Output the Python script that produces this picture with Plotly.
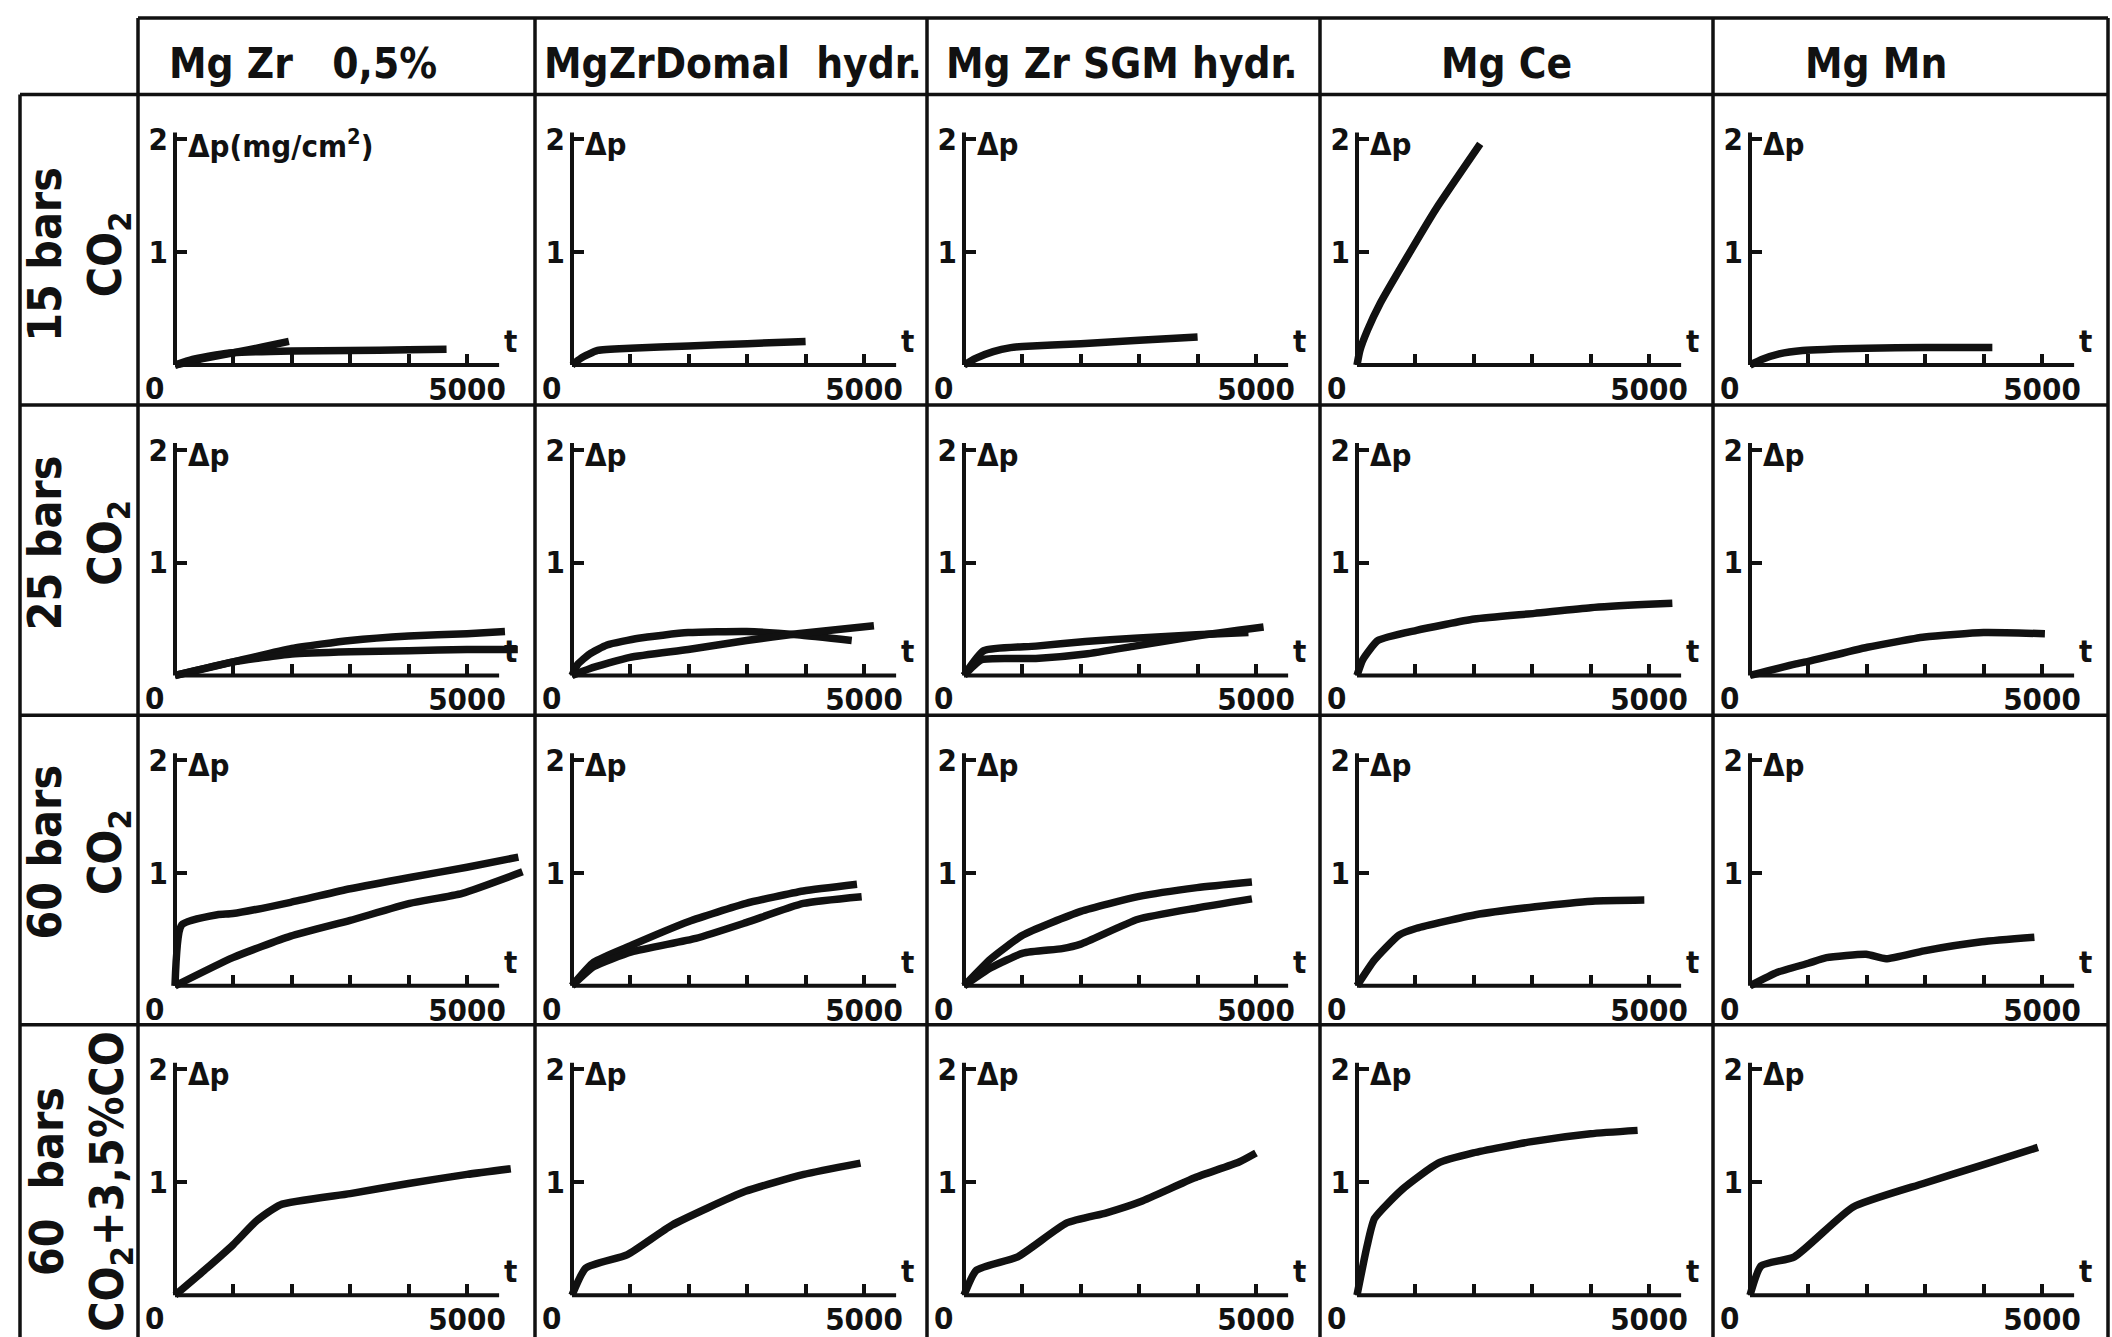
import plotly.graph_objects as go

# ---------------- data ----------------
col_titles = ["Mg Zr\u00a0\u00a0 0,5%", "MgZrDomal\u00a0 hydr.", "Mg Zr SGM hydr.", "Mg Ce", "Mg Mn"]
row_titles = ["15 bars<br>CO<sub>2</sub>", "25 bars<br>CO<sub>2</sub>", "60 bars<br>CO<sub>2</sub>",
              "60\u00a0 bars<br>CO<sub>2</sub>+3,5%CO"]
x_minor_tickvals = [1000, 2000, 3000, 4000]
x_tickvals = [5000]
x_ticktext = ["5000"]
y_tickvals = [1, 2]
y_ticktext = ["1", "2"]

# row 1 : 15 bars CO2
r1c1_a_t = [0, 500, 1000, 1500, 1950]
r1c1_a_p = [0, 0.06, 0.11, 0.16, 0.21]
r1c1_b_t = [0, 300, 700, 1000, 2000, 3000, 4000, 4650]
r1c1_b_p = [0, 0.05, 0.09, 0.11, 0.125, 0.13, 0.135, 0.14]
r1c2_t = [0, 150, 440, 1000, 2000, 3000, 4000]
r1c2_p = [0, 0.06, 0.13, 0.15, 0.17, 0.19, 0.21]
r1c3_t = [0, 200, 500, 800, 1000, 2000, 3000, 4000]
r1c3_p = [0, 0.06, 0.12, 0.155, 0.165, 0.19, 0.22, 0.25]
r1c4_t = [0, 50, 180, 400, 940, 1360, 2110]
r1c4_p = [0, 0.13, 0.31, 0.55, 1.03, 1.39, 1.96]
r1c5_t = [0, 200, 500, 900, 2000, 3000, 4150]
r1c5_p = [0, 0.05, 0.10, 0.13, 0.15, 0.155, 0.155]

# row 2 : 25 bars CO2
r2c1_a_t = [0, 1000, 2000, 3000, 4000, 5000, 5650]
r2c1_a_p = [0, 0.12, 0.24, 0.31, 0.35, 0.37, 0.39]
r2c1_b_t = [0, 1000, 2000, 3000, 4000, 5000, 5870]
r2c1_b_p = [0, 0.12, 0.19, 0.21, 0.22, 0.23, 0.23]
r2c2_a_t = [0, 100, 300, 600, 1140, 1990, 2990, 3860, 4790]
r2c2_a_p = [0, 0.10, 0.19, 0.27, 0.33, 0.38, 0.39, 0.36, 0.31]
r2c2_b_t = [0, 300, 990, 1990, 2990, 3860, 5170]
r2c2_b_p = [0, 0.06, 0.16, 0.23, 0.31, 0.37, 0.44]
r2c3_a_t = [0, 340, 1230, 2080, 2920, 3980, 4870]
r2c3_a_p = [0, 0.22, 0.26, 0.30, 0.33, 0.36, 0.38]
r2c3_b_t = [0, 300, 1230, 2080, 2920, 3980, 5130]
r2c3_b_p = [0, 0.14, 0.15, 0.19, 0.26, 0.35, 0.43]
r2c4_t = [0, 100, 360, 1020, 2010, 3040, 4000, 4990, 5400]
r2c4_p = [0, 0.14, 0.31, 0.40, 0.50, 0.55, 0.60, 0.63, 0.64]
r2c5_t = [0, 770, 1000, 2010, 2990, 4000, 5050]
r2c5_p = [0, 0.10, 0.125, 0.25, 0.34, 0.38, 0.37]

# row 3 : 60 bars CO2
r3c1_a_t = [0, 115, 725, 990, 1980, 3000, 4020, 5000, 5880]
r3c1_a_p = [0, 0.54, 0.63, 0.64, 0.74, 0.86, 0.96, 1.05, 1.14]
r3c1_b_t = [0, 990, 1980, 3000, 4020, 4920, 5950]
r3c1_b_p = [0, 0.25, 0.44, 0.58, 0.73, 0.82, 1.01]
r3c2_a_t = [0, 375, 1020, 2000, 2980, 3960, 4880]
r3c2_a_p = [0, 0.21, 0.36, 0.57, 0.73, 0.84, 0.90]
r3c2_b_t = [0, 375, 1020, 2120, 2980, 3960, 4960]
r3c2_b_p = [0, 0.17, 0.30, 0.42, 0.56, 0.73, 0.79]
r3c3_a_t = [0, 460, 1010, 2000, 2980, 3990, 4930]
r3c3_a_p = [0, 0.24, 0.45, 0.66, 0.79, 0.87, 0.92]
r3c3_b_t = [0, 460, 1010, 1680, 2000, 2980, 3990, 4930]
r3c3_b_p = [0, 0.16, 0.29, 0.33, 0.37, 0.59, 0.69, 0.77]
r3c4_t = [0, 300, 720, 1020, 2030, 3050, 4030, 4920]
r3c4_p = [0, 0.23, 0.45, 0.51, 0.63, 0.70, 0.75, 0.76]
r3c5_t = [0, 470, 1000, 1310, 1990, 2330, 2980, 3970, 4870]
r3c5_p = [0, 0.12, 0.20, 0.25, 0.28, 0.24, 0.31, 0.39, 0.43]

# row 4 : 60 bars CO2 + 3.5 % CO
r4c1_t = [0, 500, 1000, 1400, 1800, 3000, 4000, 5000, 5750]
r4c1_p = [0, 0.22, 0.45, 0.66, 0.80, 0.90, 0.99, 1.07, 1.12]
r4c2_t = [0, 235, 950, 1710, 2970, 3970, 4940]
r4c2_p = [0, 0.24, 0.36, 0.62, 0.92, 1.07, 1.17]
r4c3_t = [0, 210, 920, 1760, 2440, 3030, 3950, 4710, 5000]
r4c3_p = [0, 0.22, 0.34, 0.64, 0.73, 0.83, 1.04, 1.18, 1.26]
r4c4_t = [0, 170, 300, 780, 1390, 1990, 2990, 4000, 4805]
r4c4_p = [0, 0.43, 0.68, 0.94, 1.17, 1.26, 1.36, 1.43, 1.46]
r4c5_t = [0, 190, 760, 1760, 2970, 3960, 4930]
r4c5_p = [0, 0.26, 0.34, 0.78, 0.99, 1.15, 1.31]

cells = {
    (0, 0): [(r1c1_a_t, r1c1_a_p), (r1c1_b_t, r1c1_b_p)],
    (0, 1): [(r1c2_t, r1c2_p)],
    (0, 2): [(r1c3_t, r1c3_p)],
    (0, 3): [(r1c4_t, r1c4_p)],
    (0, 4): [(r1c5_t, r1c5_p)],
    (1, 0): [(r2c1_a_t, r2c1_a_p), (r2c1_b_t, r2c1_b_p)],
    (1, 1): [(r2c2_a_t, r2c2_a_p), (r2c2_b_t, r2c2_b_p)],
    (1, 2): [(r2c3_a_t, r2c3_a_p), (r2c3_b_t, r2c3_b_p)],
    (1, 3): [(r2c4_t, r2c4_p)],
    (1, 4): [(r2c5_t, r2c5_p)],
    (2, 0): [(r3c1_a_t, r3c1_a_p), (r3c1_b_t, r3c1_b_p)],
    (2, 1): [(r3c2_a_t, r3c2_a_p), (r3c2_b_t, r3c2_b_p)],
    (2, 2): [(r3c3_a_t, r3c3_a_p), (r3c3_b_t, r3c3_b_p)],
    (2, 3): [(r3c4_t, r3c4_p)],
    (2, 4): [(r3c5_t, r3c5_p)],
    (3, 0): [(r4c1_t, r4c1_p)],
    (3, 1): [(r4c2_t, r4c2_p)],
    (3, 2): [(r4c3_t, r4c3_p)],
    (3, 3): [(r4c4_t, r4c4_p)],
    (3, 4): [(r4c5_t, r4c5_p)],
}

# ---------------- layout geometry (pixels) ----------------
W, H = 2112, 1337
col_edges = [138, 535, 927, 1320, 1713, 2108]
row_edges = [88, 400, 712, 1023, 1337]
header_top = 11
left_edge = 20
ORIGIN_DX = 37
ORIGIN_DY = 272
PX_PER_T = 292 / 5000
PX_PER_P = 113.5
X_RANGE = [-80, 6000]
Y_RANGE = [-0.08, 2.1]
header_centers = [303, 733, 1122, 1506, 1876]
row_label_centers = [(78, 249), (78, 539), (78, 850), (80, 1181)]

FONT = "DejaVu Sans Condensed, Liberation Sans Narrow, DejaVu Sans, sans-serif"
INK = "#111111"
AX_FS = 31

fig = go.Figure()
layout = dict(width=W, height=H, margin=dict(l=0, r=0, t=0, b=0),
              paper_bgcolor="white", plot_bgcolor="rgba(0,0,0,0)", showlegend=False)
shapes = []
annotations = []

def px(x):
    return x / W

def py(y):
    return 1 - y / H

for (r, c), curves in cells.items():
    i = r * 5 + c + 1
    sfx = "" if i == 1 else str(i)
    ox = col_edges[c] + ORIGIN_DX
    oy = row_edges[r] + ORIGIN_DY
    xdom = [px(ox + X_RANGE[0] * PX_PER_T), px(ox + X_RANGE[1] * PX_PER_T)]
    ydom = [py(oy - Y_RANGE[0] * PX_PER_P), py(oy - Y_RANGE[1] * PX_PER_P)]
    layout["xaxis" + sfx] = dict(
        domain=xdom, range=X_RANGE, anchor="free", position=py(oy),
        showline=False, showgrid=False, zeroline=False,
        tickmode="array", tickvals=x_tickvals, ticktext=x_ticktext,
        ticks="inside", ticklen=11, tickwidth=3.5, tickcolor=INK,
        minor=dict(tickmode="array", tickvals=x_minor_tickvals, ticks="inside",
                   ticklen=11, tickwidth=3.5, tickcolor=INK, showgrid=False),
        tickfont=dict(family=FONT, size=AX_FS, color=INK, weight="bold"), ticklabelstandoff=3,
        fixedrange=True)
    layout["yaxis" + sfx] = dict(
        domain=ydom, range=Y_RANGE, anchor="free", position=px(ox),
        showline=False, showgrid=False, zeroline=False,
        tickmode="array", tickvals=y_tickvals, ticktext=y_ticktext,
        ticks="inside", ticklen=11, tickwidth=3.5, tickcolor=INK,
        tickfont=dict(family=FONT, size=AX_FS, color=INK, weight="bold"), ticklabelstandoff=7,
        fixedrange=True)
    xr, yr = "x" + sfx, "y" + sfx
    # axis lines
    shapes.append(dict(type="line", xref=xr, yref=yr, x0=0, y0=0, x1=5550, y1=0,
                       line=dict(color=INK, width=4)))
    shapes.append(dict(type="line", xref=xr, yref=yr, x0=0, y0=0, x1=0, y1=2.06,
                       line=dict(color=INK, width=4)))
    # axis texts
    annotations.append(dict(xref=xr, yref=yr, x=0, y=0, text="<b>0</b>", showarrow=False,
                            xanchor="right", yanchor="top", xshift=-9, yshift=-3,
                            font=dict(family=FONT, size=AX_FS, color=INK)))
    annotations.append(dict(xref=xr, yref=yr, x=5600, y=0, text="<b>t</b>", showarrow=False,
                            xanchor="left", yanchor="bottom", yshift=4,
                            font=dict(family=FONT, size=AX_FS, color=INK)))
    dp = "<b>Δp(mg/cm<sup>2</sup>)</b>" if i == 1 else "<b>Δp</b>"
    annotations.append(dict(xref=xr, yref=yr, x=0, y=2, text=dp, showarrow=False,
                            xanchor="left", yanchor="middle", xshift=11, yshift=-5,
                            font=dict(family=FONT, size=AX_FS, color=INK)))
    for t, p in curves:
        fig.add_trace(go.Scatter(x=t, y=p, xaxis=xr, yaxis=yr, mode="lines",
                                 line=dict(color=INK, width=7.5, shape="spline", smoothing=0.5),
                                 hoverinfo="skip"))

# ---------------- table grid ----------------
GW = 3.5
def gline(x0, y0, x1, y1):
    shapes.append(dict(type="line", xref="paper", yref="paper",
                       x0=px(x0), y0=py(y0), x1=px(x1), y1=py(y1),
                       line=dict(color=INK, width=GW)))

gline(col_edges[0], header_top, col_edges[-1], header_top)
gline(left_edge, row_edges[0], col_edges[-1], row_edges[0])
for y in row_edges[1:-1]:
    gline(left_edge, y, col_edges[-1], y)
for x in col_edges:
    gline(x, header_top, x, H)
gline(left_edge, row_edges[0], left_edge, H)

for j, title in enumerate(col_titles):
    annotations.append(dict(xref="paper", yref="paper", x=px(header_centers[j]), y=py(57),
                            text="<b>" + title + "</b>", showarrow=False,
                            xanchor="center", yanchor="middle",
                            font=dict(family=FONT, size=42, color=INK)))
for k, title in enumerate(row_titles):
    cx, cy = row_label_centers[k]
    annotations.append(dict(xref="paper", yref="paper", x=px(cx), y=py(cy),
                            text="<b>" + title + "</b>", showarrow=False, textangle=-90,
                            xanchor="center", yanchor="middle", align="center",
                            font=dict(family=FONT, size=46, color=INK)))

layout["shapes"] = shapes
layout["annotations"] = annotations
fig.update_layout(**layout)
fig.write_html("out.html")
